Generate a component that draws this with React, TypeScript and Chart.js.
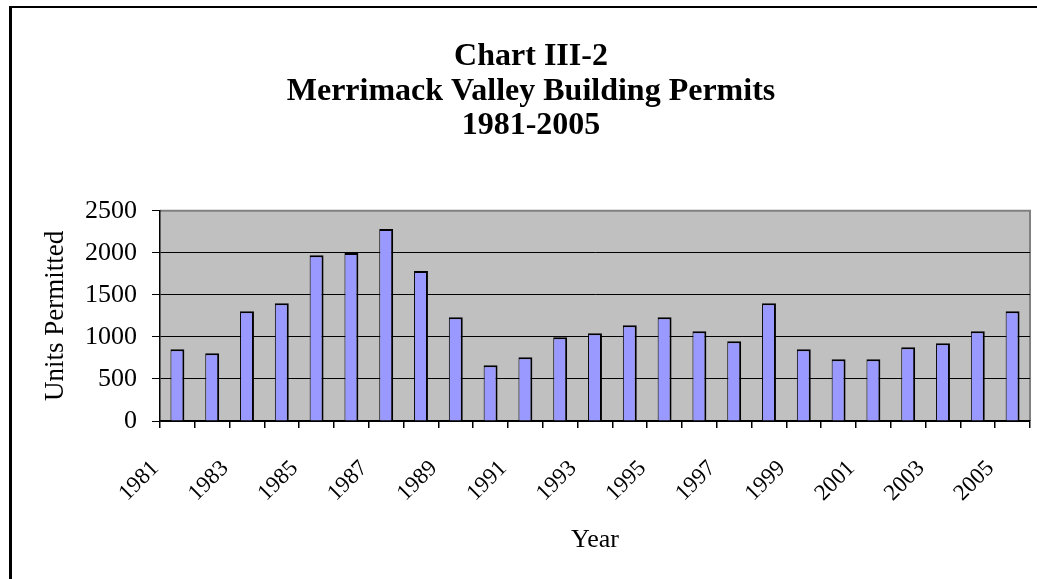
import React, { useEffect, useRef } from "react";
import { Chart, registerables } from "chart.js";

Chart.register(...registerables);

const years: string[] = [
  "1981", "1982", "1983", "1984", "1985", "1986", "1987", "1988", "1989", "1990",
  "1991", "1992", "1993", "1994", "1995", "1996", "1997", "1998", "1999", "2000",
  "2001", "2002", "2003", "2004", "2005",
];
const unitsPermitted: number[] = [
  853, 806, 1306, 1401, 1972, 1996, 2282, 1782, 1234, 663,
  758, 996, 1044, 1139, 1234, 1068, 949, 1401, 853, 734,
  734, 877, 925, 1068, 1306,
];
const titleLines: string[] = ["Chart III-2", "Merrimack Valley Building Permits", "1981-2005"];
const yTicks: number[] = [0, 500, 1000, 1500, 2000, 2500];

const SERIF = "'Liberation Serif', 'Times New Roman', serif";

const framePlugin = {
  id: "frameAndPlot",
  beforeDraw(chart: any) {
    const { ctx, chartArea } = chart;
    ctx.save();
    ctx.fillStyle = "#ffffff";
    ctx.fillRect(0, 0, chart.width, chart.height);
    ctx.fillStyle = "#000000";
    ctx.fillRect(9, 6, 3, chart.height);
    ctx.fillRect(9, 6, chart.width, 2);
    ctx.fillStyle = "#c0c0c0";
    ctx.fillRect(chartArea.left, chartArea.top, chartArea.right - chartArea.left, chartArea.bottom - chartArea.top);
    ctx.strokeStyle = "#808080";
    ctx.lineWidth = 2;
    ctx.beginPath();
    ctx.moveTo(chartArea.left, chartArea.top);
    ctx.lineTo(chartArea.right, chartArea.top);
    ctx.lineTo(chartArea.right, chartArea.bottom);
    ctx.stroke();
    ctx.restore();
  },
};

export default function App() {
  const ref = useRef<HTMLCanvasElement | null>(null);
  useEffect(() => {
    document.body.style.margin = "0";
    if (!ref.current) return;
    const chart = new Chart(ref.current, {
      type: "bar",
      data: {
        labels: years,
        datasets: [
          {
            label: "Units Permitted",
            data: unitsPermitted,
            backgroundColor: "#9999ff",
            borderColor: "#000000",
            borderWidth: { top: 2, left: 1, right: 2, bottom: 0 } as any,
            borderSkipped: false as any,
            barPercentage: 0.4,
            categoryPercentage: 1,
          },
        ],
      },
      options: {
        responsive: false,
        animation: false,
        devicePixelRatio: 1,
        layout: { padding: { top: 0, left: 32, right: 7, bottom: 0 } },
        plugins: {
          legend: { display: false },
          tooltip: { enabled: false },
          title: {
            display: true,
            text: titleLines,
            color: "#000000",
            font: { family: SERIF, size: 32, weight: "bold", lineHeight: 1.07 },
            padding: { top: 40, bottom: 68 },
          },
        },
        scales: {
          x: {
            grid: {
              display: true,
              drawOnChartArea: false,
              drawTicks: true,
              tickLength: 7,
              color: "#000000",
              lineWidth: 1.5,
              offset: true,
            },
            border: { display: true, color: "#000000", width: 1.5 },
            ticks: {
              autoSkip: false,
              maxRotation: 45,
              minRotation: 45,
              color: "#000000",
              font: { family: SERIF, size: 23 },
              padding: 27,
              labelOffset: -22,
              callback: (_v: any, i: number) => (i % 2 === 0 ? years[i] : ""),
            },
            title: {
              display: true,
              text: "Year",
              color: "#000000",
              font: { family: SERIF, size: 26 },
              padding: { top: 0, bottom: 23 },
            },
            afterFit: (scale: any) => {
              scale.height = 158;
              scale.paddingLeft = 0;
              scale.paddingRight = 0;
            },
          },
          y: {
            min: 0,
            max: 2500,
            afterBuildTicks: (scale: any) => {
              scale.ticks = yTicks.map((v) => ({ value: v }));
            },
            grid: {
              color: (ctx: any) => (ctx.tick && ctx.tick.value === 2500 ? "#808080" : "#000000"),
              tickColor: "#000000",
              lineWidth: 1,
              drawTicks: true,
              tickLength: 8,
            },
            border: { display: true, color: "#000000", width: 1.5 },
            ticks: {
              color: "#000000",
              font: { family: SERIF, size: 26 },
              padding: 15,
              callback: (v: any) => String(v),
            },
            title: {
              display: true,
              text: "Units Permitted",
              color: "#000000",
              font: { family: SERIF, size: 27 },
              padding: { top: 8, bottom: 0 },
            },
            afterFit: (scale: any) => {
              scale.width = 128;
            },
          },
        },
      },
      plugins: [framePlugin],
    });
    return () => chart.destroy();
  }, []);
  return (
    <div style={{ width: 1037, height: 579 }}>
      <canvas ref={ref} width={1037} height={579} style={{ display: "block" }} />
    </div>
  );
}
